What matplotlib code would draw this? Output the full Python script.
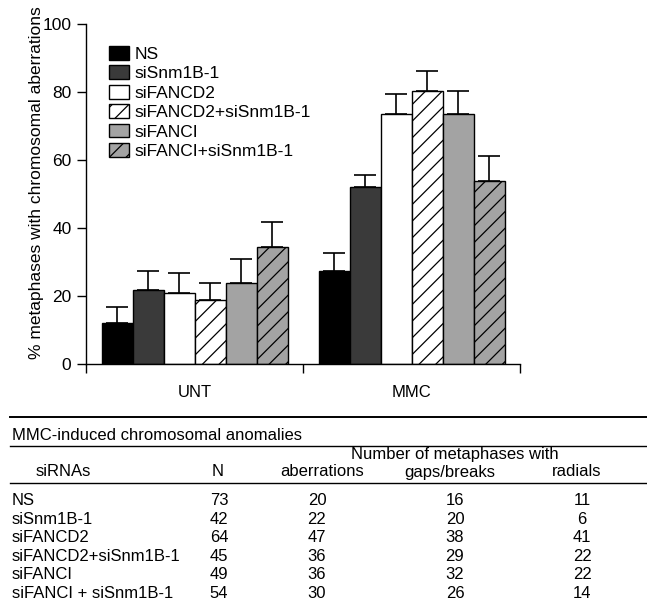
import matplotlib
matplotlib.use("Agg")
import matplotlib.pyplot as plt
from matplotlib.lines import Line2D
import numpy as np

plt.rcParams['font.family'] = ['Liberation Sans', 'DejaVu Sans']
plt.rcParams['hatch.linewidth'] = 0.9

# ---- data ----
groups = ["UNT", "MMC"]
series = ["NS", "siSnm1B-1", "siFANCD2", "siFANCD2+siSnm1B-1", "siFANCI", "siFANCI+siSnm1B-1"]
unt_values = [12.1, 21.9, 20.9, 18.7, 23.9, 34.4]
unt_errors = [4.6, 5.4, 5.9, 5.2, 6.9, 7.4]
mmc_values = [27.5, 52.1, 73.4, 80.2, 73.4, 53.9]
mmc_errors = [5.2, 3.5, 5.9, 6.1, 7.0, 7.3]
y_ticks = [0, 20, 40, 60, 80, 100]
y_label = "% metaphases with chromosomal aberrations"

table_title = "MMC-induced chromosomal anomalies"
table_group_header = "Number of metaphases with"
table_headers = ["siRNAs", "N", "aberrations", "gaps/breaks", "radials"]
table_rows = ["NS", "siSnm1B-1", "siFANCD2", "siFANCD2+siSnm1B-1", "siFANCI", "siFANCI + siSnm1B-1"]
table_N = [73, 42, 64, 45, 49, 54]
table_aberrations = [20, 22, 47, 36, 36, 30]
table_gaps = [16, 20, 38, 29, 32, 26]
table_radials = [11, 6, 41, 22, 22, 14]

# ---- styles ----
face_colors = ["#000000", "#3a3a3a", "#ffffff", "#ffffff", "#a3a3a3", "#a3a3a3"]
hatches = [None, None, None, "//", None, "//"]

W, H = 647, 603
fig = plt.figure(figsize=(W / 100, H / 100), dpi=100)

def fx(x):
    return x / W

def fy(y):
    return 1 - y / H

ax = fig.add_axes([fx(86), fy(364), (520 - 86) / W, (364 - 24) / H])

values = np.array([unt_values, mmc_values])
errors = np.array([unt_errors, mmc_errors])
n = len(series)
bw = 1.0 / 7
centers = np.arange(len(groups)) + 0.5
handles = []
for i in range(n):
    xs = centers + (i - (n - 1) / 2) * bw
    b = ax.bar(xs, values[:, i], width=bw, color=face_colors[i], edgecolor="black",
               linewidth=1.0, hatch=hatches[i], label=series[i], zorder=2)
    ax.errorbar(xs, values[:, i], yerr=[np.zeros(len(groups)), errors[:, i]],
                fmt="none", ecolor="black", elinewidth=1.2, capsize=8, capthick=1.2, zorder=1)
    handles.append(b)

ax.set_xlim(0, 2)
ax.set_ylim(0, 100)
ax.set_yticks(y_ticks)
ax.set_yticklabels([str(t) for t in y_ticks], fontsize=12.5)
ax.set_xticks([0, 1, 2])
ax.set_xticklabels([])
for s in ["top", "right"]:
    ax.spines[s].set_visible(False)
for s in ["left", "bottom"]:
    ax.spines[s].set_linewidth(1.0)
ax.tick_params(axis="y", direction="out", length=6.5, width=1.0, pad=4)
ax.tick_params(axis="x", direction="out", length=6.5, width=1.0)

for gi, g in enumerate(groups):
    ax.text(centers[gi], -0.085, g, transform=ax.get_xaxis_transform(),
            ha="center", va="center", fontsize=12)

fig.text(fx(37), fy(183), y_label, rotation=90, ha="center", va="center", fontsize=12.5)

ax.legend(handles=handles, labels=series, loc="upper left",
          bbox_to_anchor=((109 - 86) / 434, (364 - 46) / 340),
          frameon=False, fontsize=12.5, handlelength=1.15, handleheight=0.85,
          handletextpad=0.3, labelspacing=0.2, borderpad=0, borderaxespad=0)

# ---- table ----
def hline(y, lw):
    fig.add_artist(Line2D([fx(10), fx(647)], [fy(y), fy(y)], color="black", linewidth=lw))

hline(417, 1.4)
hline(446, 1.0)
hline(482.5, 1.0)

fs = 12
fig.text(fx(12), fy(436), table_title, ha="left", va="center", fontsize=fs)
fig.text(fx(455), fy(455), table_group_header, ha="center", va="center", fontsize=fs)
header_x = [63, 218, 322, 450, 577]
for hx, h in zip(header_x, table_headers):
    fig.text(fx(hx), fy(472), h, ha="center", va="center", fontsize=fs)

col_x = [219, 317, 455, 582]
row_y0, row_dy = 500.7, 18.5
for r, name in enumerate(table_rows):
    y = row_y0 + r * row_dy
    fig.text(fx(12), fy(y), name, ha="left", va="center", fontsize=fs)
    for cx, col in zip(col_x, [table_N, table_aberrations, table_gaps, table_radials]):
        fig.text(fx(cx), fy(y), str(col[r]), ha="center", va="center", fontsize=fs)

fig.savefig("out.png", dpi=100)
